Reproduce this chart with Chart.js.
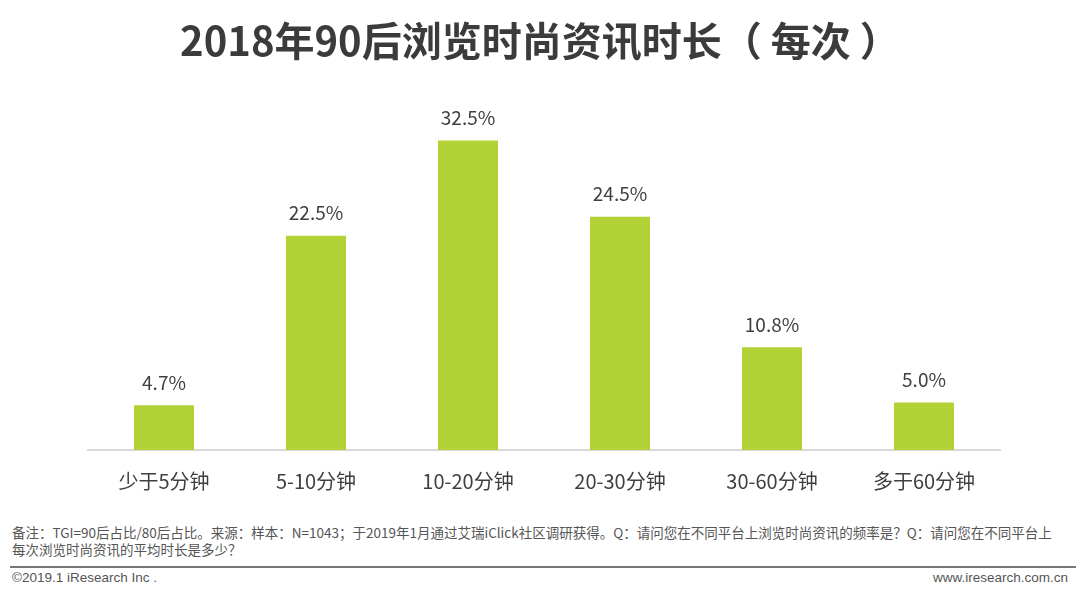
<!DOCTYPE html>
<html>
<head>
<meta charset="utf-8">
<script src="https://cdn.jsdelivr.net/npm/chart.js@4/dist/chart.umd.min.js"></script>
<style>
  body { margin:0; width:1080px; height:594px; background:#fff; overflow:hidden; position:relative; font-family:"Noto Sans CJK SC","Noto Sans",sans-serif; }
  #title { position:absolute; top:10px; left:0; width:1080px; text-align:center; font-size:40px; font-weight:bold; color:#3b3b3b; letter-spacing:0px; }
  #chart-wrap { position:absolute; left:0; top:0; width:1080px; height:504px; }
  #note { position:absolute; left:12px; top:524px; width:1066px; font-size:13.5px; line-height:17px; color:#555; }
  #rule { position:absolute; left:10px; top:566px; width:1066px; height:2px; background:#777; }
  #copy { position:absolute; left:12px; top:570px; font-size:13.5px; color:#555; font-family:"Liberation Sans",sans-serif; }
  #site { position:absolute; right:12px; top:570px; font-size:13.5px; color:#555; font-family:"Liberation Sans",sans-serif; }
</style>
</head>
<body>
<div id="chart-wrap"><canvas id="durationChart"></canvas></div>
<div id="title">2018年90后浏览时尚资讯时长（ 每次 ）</div>
<div id="note">备注：TGI=90后占比/80后占比。来源：样本：N=1043；于2019年1月通过艾瑞iClick社区调研获得。Q：请问您在不同平台上浏览时尚资讯的频率是？Q：请问您在不同平台上<br>每次浏览时尚资讯的平均时长是多少？</div>
<div id="rule"></div>
<div id="copy">©2019.1 iResearch Inc .</div>
<div id="site">www.iresearch.com.cn</div>
<script>
// data
const categories = ['少于5分钟', '5-10分钟', '10-20分钟', '20-30分钟', '30-60分钟', '多于60分钟'];
const shares = [4.7, 22.5, 32.5, 24.5, 10.8, 5.0];

// value labels above each bar
const valueLabels = {
    id: 'valueLabels',
    afterDatasetsDraw(chart){
        const ctx = chart.ctx;
        const meta = chart.getDatasetMeta(0);
        ctx.save();
        ctx.font = '19px "Noto Sans CJK SC", "Noto Sans", sans-serif';
        ctx.fillStyle = '#404040';
        ctx.textAlign = 'center';
        ctx.textBaseline = 'bottom';
        meta.data.forEach((bar, i)=>{
            ctx.fillText(shares[i].toFixed(1) + '%', bar.x, bar.y - 13);
        });
        ctx.restore();
    }
};

const ctx = document.getElementById('durationChart').getContext('2d');
new Chart(ctx, {
    type: 'bar',
    data: {
        labels: categories,
        datasets: [{ data: shares, backgroundColor: '#b2d235', barPercentage: 0.79, categoryPercentage: 0.5 }]
    },
    options: {
        responsive: true,
        maintainAspectRatio: false,
        animation: false,
        layout: { padding: { top: 69, left: 88, right: 80, bottom: 0 } },
        plugins: { legend: { display: false }, tooltip: { enabled: false } },
        scales: {
            x: {
                grid: { display: false },
                border: { display: true, color: '#d9d9d9', width: 2 },
                ticks: { color: '#404040', padding: 11, font: { size: 20, family: '"Noto Sans CJK SC", "Noto Sans", sans-serif' } }
            },
            y: { display: false, min: 0, max: 40 }
        }
    },
    plugins: [valueLabels]
});
</script>
</body>
</html>
